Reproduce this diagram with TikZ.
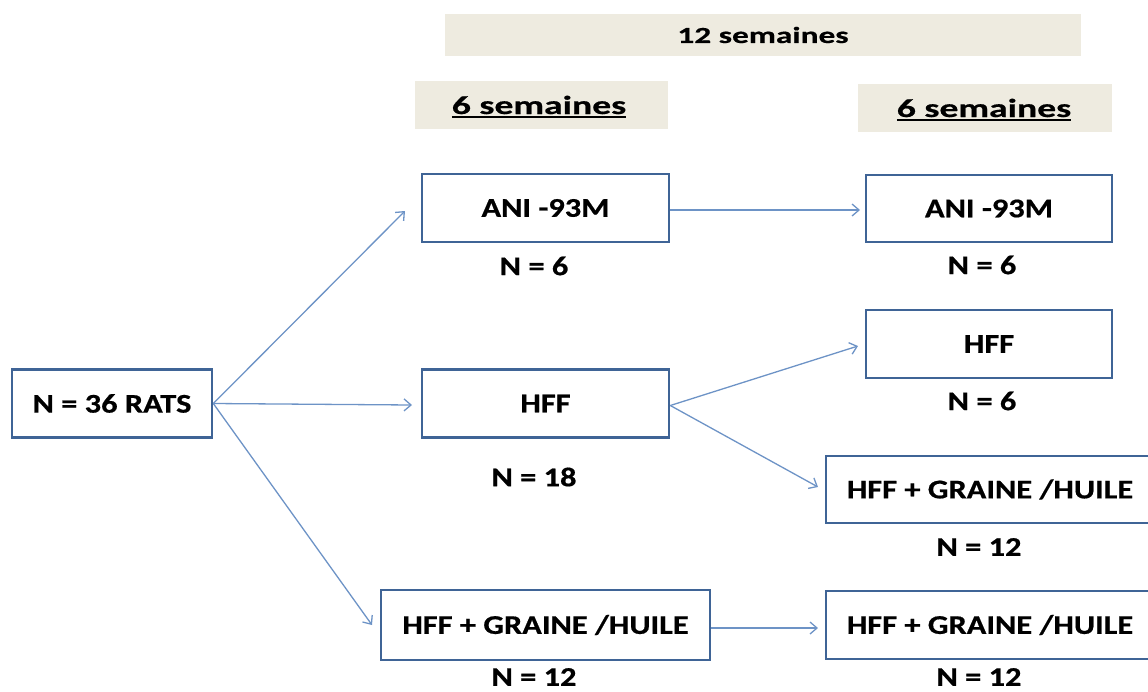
\documentclass[tikz,border=0pt]{standalone}
\usepackage{fontspec}
\setmainfont{Carlito}
\newfontfamily\boxfont[FakeStretch=1.2,FakeBold=0.6]{Carlito}
\newfontfamily\hdrfont[FakeStretch=1.45,FakeBold=0.6]{Carlito}
\newcommand{\ulthick}[1]{\setbox0=\hbox{#1}\vtop{\copy0\kern1.5pt\hrule height 2.2pt width \wd0}}
\usetikzlibrary{arrows.meta}
\definecolor{boxline}{HTML}{3F6496}
\definecolor{arrowc}{HTML}{6D93C6}
\definecolor{hdrfill}{HTML}{EEEBE0}
\tikzset{
  x=1pt, y=-1pt,
  box/.style={draw=boxline, line width=2.6pt, fill=white, minimum height=68pt, inner sep=0pt, font=\boxfont\fontsize{27}{29}\selectfont\bfseries},
  lbl/.style={font=\boxfont\fontsize{27}{29}\selectfont\bfseries, inner sep=0pt},
  hdr/.style={fill=hdrfill, inner sep=0pt, font=\hdrfont\fontsize{23}{25}\selectfont\bfseries},
  hdrsix/.style={hdr, font=\hdrfont\fontsize{26}{28}\selectfont\bfseries},
  arr/.style={draw=arrowc, line width=1.3pt, -{Straight Barb[length=7pt,width=12pt,line width=1.3pt]}}
}
\begin{document}
\begin{tikzpicture}
\useasboundingbox (0,0) rectangle (1148,691);
\clip (0,0) rectangle (1148,691);
% headers
\node[hdr, minimum width=636pt, minimum height=42pt] (h12) at (763,35) {12 semaines};
\node[hdr, minimum width=253pt, minimum height=48pt] (h6a) at (541.5,105) {};
\node[hdr, minimum width=254pt, minimum height=48pt] (h6b) at (985,108) {};
\node[hdrsix, fill=none, anchor=base] (t6a) at (539,114) {\ulthick{6 semaines}};
\node[hdrsix, fill=none, anchor=base] (t6b) at (984,117) {\ulthick{6 semaines}};
% boxes
\node[box, minimum width=200pt] (rats) at (112,403.5) {N = 36 RATS};
\node[box, minimum width=247pt] (ani1) at (545.5,208) {ANI -93M};
\node[box, minimum width=247pt] (hff1) at (545.5,403.5) {HFF};
\node[box, minimum width=329pt, minimum height=70pt] (hg1) at (545.5,625) {HFF + GRAINE /HUILE};
\node[box, minimum width=246pt, minimum height=67pt] (ani2) at (989,208.5) {ANI -93M};
\node[box, minimum width=246pt] (hff2) at (989,344) {HFF};
\node[box, minimum width=328pt, minimum height=67pt] (hg2) at (990,489.5) {HFF + GRAINE /HUILE};
\node[box, minimum width=328pt, minimum height=68pt] (hg3) at (990,625) {HFF + GRAINE /HUILE};
% labels
\node[lbl] (n1) at (534,266) {N = 6};
\node[lbl] (n2) at (534,477) {N = 18};
\node[lbl] (n3) at (534,677) {N = 12};
\node[lbl] (n4) at (982,265) {N = 6};
\node[lbl] (n5) at (982,401) {N = 6};
\node[lbl] (n6) at (979,547) {N = 12};
\node[lbl] (n7) at (979,677) {N = 12};
% arrows
\coordinate (t1) at (405,211);
\coordinate (t2) at (412,405);
\coordinate (t3) at (372,625);
\coordinate (t4) at (860,210);
\coordinate (t5) at (858,346);
\coordinate (t6) at (818,487);
\coordinate (t7) at (818,628);
\draw[arr] (rats.east) -- (t1);
\draw[arr] (rats.east) -- (t2);
\draw[arr] (rats.east) -- (t3);
\draw[arr] (ani1.east) ++(0,2) -- (t4);
\draw[arr] (hff1.east) ++(0,2) -- (t5);
\draw[arr] (hff1.east) ++(0,2) -- (t6);
\draw[arr] (hg1.east) ++(0,3) -- (t7);
\end{tikzpicture}
\end{document}
